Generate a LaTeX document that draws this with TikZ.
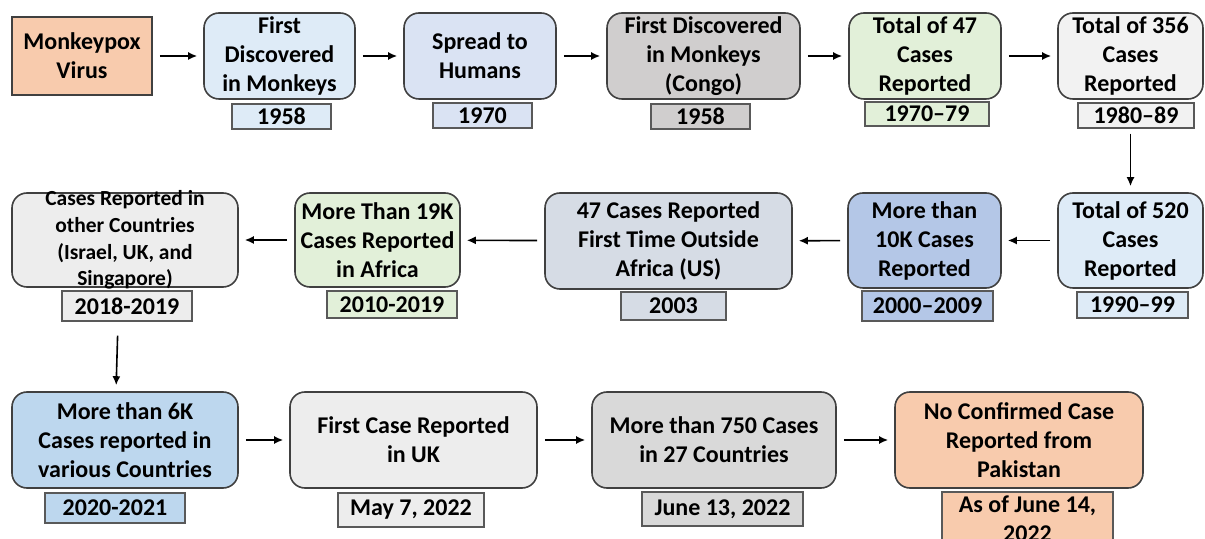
\documentclass[tikz,border=0pt]{standalone}
\usepackage{fontspec}
\setmainfont{Carlito}
\usetikzlibrary{arrows.meta}
\definecolor{peach}{HTML}{F8CBAD}
\definecolor{lblue}{HTML}{DEEBF7}
\definecolor{lav}{HTML}{DAE3F3}
\definecolor{wgray}{HTML}{D0CECE}
\definecolor{lgreen}{HTML}{E2F0D9}
\definecolor{vlgray}{HTML}{F2F2F2}
\definecolor{lgray}{HTML}{EDEDED}
\definecolor{bgray}{HTML}{D6DCE5}
\definecolor{mblue}{HTML}{B4C7E7}
\definecolor{sblue}{HTML}{BDD7EE}
\definecolor{mgray}{HTML}{D9D9D9}
\definecolor{bordc}{HTML}{404040}
\definecolor{datec}{HTML}{595959}
\tikzset{
  rbox/.style={draw=bordc, line width=0.8pt, rounded corners=7.5pt, inner sep=0pt, align=center, font=\fontsize{12}{14.5}\selectfont\bfseries},
  sbox/.style={draw=bordc, line width=0.8pt, inner sep=0pt, align=center, font=\fontsize{12}{14.5}\selectfont\bfseries},
  dbox/.style={draw=datec, line width=0.7pt, inner sep=0pt, align=center, font=\fontsize{12}{14.5}\selectfont\bfseries},
  txt/.style={inner sep=0pt, align=center},
  arr/.style={-{Latex[length=4.5pt,width=4pt]}, line width=0.8pt, shorten <=3.5pt, shorten >=3pt}
}
\begin{document}
\begin{tikzpicture}[x=0.5pt,y=-0.5pt]
\useasboundingbox (0,0) rectangle (1205,539);
% Row 1
\node[sbox, fill=peach, minimum width=70pt, minimum height=39pt] (m) at (82,56) {Monkeypox\\Virus};
\node[rbox, fill=lblue, minimum width=75.5pt, minimum height=43pt] (b2) at (279.5,56) {First\\Discovered\\in Monkeys};
\node[dbox, fill=lblue, minimum width=49.5pt, minimum height=12.5pt] (d2) at (281.5,116.5) {1958};
\node[rbox, fill=lav, minimum width=76pt, minimum height=43pt] (b3) at (480,56) {Spread to\\Humans};
\node[dbox, fill=lav, minimum width=49.5pt, minimum height=12.5pt] (d3) at (482.5,115.5) {1970};
\node[rbox, fill=wgray, minimum width=96.5pt, minimum height=43pt] (b4) at (703.5,56) {First Discovered\\in Monkeys\\(Congo)};
\node[dbox, fill=wgray, minimum width=49.5pt, minimum height=12.5pt] (d4) at (700.5,116.5) {1958};
\node[rbox, fill=lgreen, minimum width=76pt, minimum height=43pt] (b5) at (925,56) {Total of 47\\Cases\\Reported};
\node[dbox, fill=lgreen, minimum width=62pt, minimum height=12pt] (d5) at (927,114) {1970--79};
\node[rbox, fill=vlgray, minimum width=72.5pt, minimum height=43pt] (b6) at (1130.5,56) {Total of 356\\Cases\\Reported};
\node[dbox, fill=vlgray, minimum width=58pt, minimum height=12.5pt] (d6) at (1136,115.5) {1980--89};
% Row 2
\node[rbox, fill=lgray, minimum width=113pt, minimum height=47pt] (A) at (125,240) {};
\node[txt, font=\fontsize{10.75}{13.3}\selectfont\bfseries] (At) at (125,240) {Cases Reported in\\other Countries\\(Israel, UK, and\\Singapore)};
\node[dbox, fill=lgray, minimum width=65pt, minimum height=15pt] (dA) at (127,306) {2018-2019};
\node[rbox, fill=lgreen, minimum width=82.5pt, minimum height=47pt] (B) at (377.5,240) {More Than 19K\\Cases Reported\\in Africa};
\node[dbox, fill=lgreen, minimum width=65pt, minimum height=13.5pt] (dB) at (392,304.5) {2010-2019};
\node[rbox, fill=bgray, minimum width=123.5pt, minimum height=48pt] (C) at (668.5,241) {47 Cases Reported\\First Time Outside\\Africa (US)};
\node[dbox, fill=bgray, minimum width=52.5pt, minimum height=14pt] (dC) at (673.5,306) {2003};
\node[rbox, fill=mblue, minimum width=76.5pt, minimum height=47.5pt] (D) at (924.5,240.5) {More than\\10K Cases\\Reported};
\node[dbox, fill=mblue, minimum width=65.5pt, minimum height=15pt] (dD) at (927.5,306) {2000--2009};
\node[rbox, fill=lblue, minimum width=72.5pt, minimum height=47.5pt] (E) at (1130.5,240.5) {Total of 520\\Cases\\Reported};
\node[dbox, fill=lblue, minimum width=55.5pt, minimum height=13pt] (dE) at (1132.5,305) {1990--99};
% Row 3
\node[rbox, fill=sblue, minimum width=113pt, minimum height=48pt] (F) at (125,440) {More than 6K\\Cases reported in\\various Countries};
\node[dbox, fill=sblue, minimum width=70pt, minimum height=15pt] (dF) at (115,508) {2020-2021};
\node[rbox, fill=lgray, minimum width=123.5pt, minimum height=48pt] (G) at (413.5,440) {First Case Reported\\in UK};
\node[dbox, fill=lgray, minimum width=73pt, minimum height=17pt] (dG) at (411,510) {May 7, 2022};
\node[rbox, fill=mgray, minimum width=122pt, minimum height=48pt] (H) at (714,440) {More than 750 Cases\\in 27 Countries};
\node[dbox, fill=mgray, minimum width=80.5pt, minimum height=17pt] (dH) at (722.5,509) {June 13, 2022};
\node[rbox, fill=peach, minimum width=124pt, minimum height=48pt] (I) at (1019,440) {No Confirmed Case\\Reported from\\Pakistan};
\node[dbox, fill=peach, minimum width=85.5pt, minimum height=27pt] (dI) at (1027.5,519) {As of June 14,\\2022};
% Arrows
\draw[arr] (m) -- (b2);
\draw[arr] (b2) -- (b3);
\draw[arr] (b3) -- (b4);
\draw[arr] (b4) -- (b5);
\draw[arr] (b5) -- (b6);
\draw[arr, shorten <=2.5pt] (E.north |- d6.south) -- (E.north);
\draw[arr] (E) -- (D);
\draw[arr] (D) -- (C);
\draw[arr] (C) -- (B);
\draw[arr] (B) -- (A);
\draw[arr, shorten <=7pt] ([xshift=-4.5pt]dA.south) -- ([xshift=-4.5pt]F.north);
\draw[arr] (F) -- (G);
\draw[arr] (G) -- (H);
\draw[arr] (H) -- (I);
\end{tikzpicture}
\end{document}
